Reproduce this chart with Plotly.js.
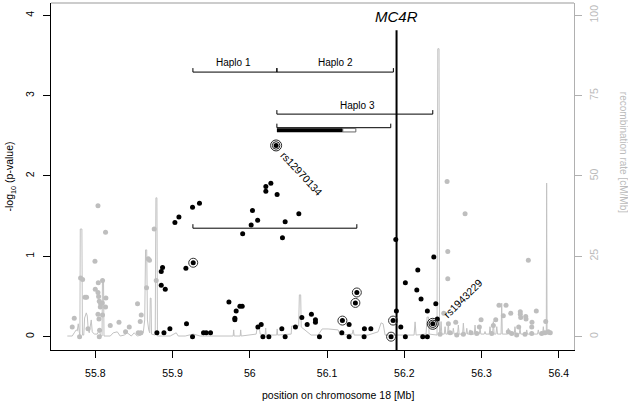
<!DOCTYPE html>
<html>
<head>
<meta charset="utf-8">
<script src="https://cdn.plot.ly/plotly-3.0.1.min.js"></script>
<style>html,body{margin:0;padding:0;background:#fff;}#chart{width:628px;height:405px;}</style>
</head>
<body>
<div id="chart"></div>
<script>
// ---- data (position in Mb on chr18) ----
var snpPos = [55.8798,55.8889,55.8966,55.8854,55.8871,55.8854,55.8906,55.9031,55.9083,55.9173,
  55.9181,55.9259,55.9349,55.9268,55.9259,55.9401,55.9436,55.9492,55.9730,55.9824,
  55.9872,55.9902,55.9807,55.9807,56.0035,56.0102,56.0018,55.9908,56.0208,56.0208,
  56.0273,56.0354,56.0458,56.0635,56.0423,56.0105,56.0148,56.0170,56.0247,56.0415,
  56.0458,56.0591,56.0674,56.0743,56.0798,56.0850,56.0850,56.0902,56.1199,56.1192,
  56.1286,56.1286,56.1386,56.1367,56.1484,56.1567,56.1480,56.1855,56.1829,56.1890,
  56.1898,56.1955,56.2014,56.2014,56.2175,56.2162,56.2217,56.2382,56.2408,56.2299,
  56.2239,56.2299,56.2369,56.2428,56.0341];
var snpLogP = [0.05,0.05,0.10,0.81,0.86,0.64,0.59,1.42,1.49,0.85,
  0.16,1.61,1.66,0.92,0.00,0.05,0.05,0.05,0.43,0.32,
  0.38,0.38,0.23,0.21,1.57,1.45,1.39,1.28,1.87,1.81,
  1.91,1.77,1.43,1.53,1.23,0.12,0.15,0.00,0.00,0.10,
  0.00,0.12,0.24,0.15,0.28,0.21,0.18,0.00,0.20,0.05,
  0.15,0.00,0.55,0.42,0.10,0.10,0.00,0.20,0.00,1.21,
  0.32,0.12,0.00,0.67,0.83,0.58,0.47,0.99,0.41,0.32,
  0.00,0.00,0.16,0.22,2.38];

var flankPos = [55.8035,55.8133,55.7996,55.7810,55.7836,55.7867,55.7887,55.7728,55.7702,55.7797,
  55.7906,55.8000,55.8035,55.8039,55.8094,55.8043,55.8052,55.8069,55.8091,55.8065,
  55.8133,55.8138,55.8048,55.8035,55.8094,55.8056,55.8052,55.8194,55.8307,55.8392,
  55.8440,55.8547,55.8595,55.8582,55.8556,55.8591,55.8763,55.8664,55.8686,55.8702,
  55.8789,
  56.2554,56.2787,56.2563,56.2563,56.3606,56.2511,56.2571,56.2666,56.3226,56.3317,
  56.3282,56.3378,56.3502,56.3502,56.3507,56.3572,56.3709,56.3653,56.2994,56.2972,
  56.3184,56.3481,56.3831,56.3890,56.3576,56.3650,56.3153,
  56.2463,56.2593,56.2679,56.2765,56.2864,56.2938,56.3132,56.3347,56.3391,56.3455,
  56.3563,56.3650,56.3779,56.3822,56.3864];
var flankLogP = [1.63,1.30,0.94,0.73,0.71,0.49,0.49,0.23,0.12,0.00,
  0.10,0.59,0.55,0.67,0.70,0.50,0.44,0.41,0.42,0.37,
  0.37,0.48,0.22,0.28,0.27,0.08,0.00,0.14,0.18,0.06,
  0.12,0.41,0.27,0.19,0.05,0.05,1.34,0.61,0.97,0.95,
  0.70,
  1.93,1.53,1.06,0.72,0.95,0.29,0.16,0.18,0.39,0.39,
  0.26,0.29,0.31,0.28,0.24,0.25,0.32,0.18,0.21,0.12,
  0.21,0.12,0.19,0.05,0.22,0.12,0.14,
  0.03,0.05,0.02,0.03,0.05,0.04,0.04,0.06,0.04,0.02,
  0.03,0.04,0.04,0.05,0.06];

var ringPos = [55.9268,56.1199,56.1386,56.1367,56.1855,56.1829];
var ringLogP = [0.92,0.20,0.55,0.42,0.20,0.00];
var leadNames = ["rs12970134","rs1943229"];
var leadPos = [56.0341,56.2369];
var leadLogP = [2.38,0.16];

var recombPos = [55.7638,55.7702,55.7728,55.7754,55.7767,55.7780,55.7793,55.7801,55.7806,55.7827,
  55.7834,55.7851,55.7862,55.7884,55.7897,55.7909,55.7922,55.7935,55.7948,55.7961,
  55.7987,55.8026,55.8052,55.8071,55.8088,55.8093,55.8107,55.8113,55.8194,55.8233,
  55.8285,55.8323,55.8375,55.8414,55.8466,55.8505,55.8543,55.8595,55.8621,55.8640,
  55.8651,55.8666,55.8675,55.8692,55.8705,55.8712,55.8722,55.8728,55.8776,55.8785,
  55.8798,55.8805,55.8970,55.9048,55.9074,55.9164,55.9268,55.9358,55.9514,55.9785,
  55.9792,55.9798,55.9876,55.9882,55.9889,56.0083,56.0096,56.0122,56.0135,56.0199,
  56.0206,56.0212,56.0348,56.0355,56.0361,56.0536,56.0542,56.0555,56.0633,56.0642,
  56.0659,56.0666,56.0794,56.0885,56.0937,56.1014,56.1144,56.1170,56.1325,56.1338,
  56.1351,56.1532,56.1661,56.1700,56.1726,56.1752,56.1894,56.2127,56.2140,56.2153,
  56.2282,56.2295,56.2314,56.2321,56.2424,56.2434,56.2450,56.2456,
  56.2466,56.2476,56.2486, 56.2518,56.2528,56.2538, 56.2560,56.2570,56.2580,
  56.2625,56.2635,56.2645, 56.2690,56.2700,56.2710, 56.2755,56.2765,56.2775,
  56.2799,56.2809,56.2819, 56.2841,56.2851,56.2861, 56.2906,56.2916,56.2926,
  56.2971,56.2981,56.2991, 56.3035,56.3045,56.3055, 56.3100,56.3110,56.3120,
  56.3143,56.3153,56.3163, 56.3187,56.3197,56.3207, 56.3253,56.3261,56.3269,
  56.3337,56.3347,56.3357, 56.3423,56.3433,56.3443, 56.3488,56.3498,56.3508,
  56.3575,56.3585,56.3595, 56.3639,56.3649,56.3659, 56.3725,56.3735,56.3745,
  56.3790,56.3800,56.3810, 56.3838,56.3843,56.3848, 56.3898,56.3908];
var recombRate = [0.2,0.2,1.2,2.1,1.8,4.0,1.5,0.2,33.5,33.5,
  0.5,0.5,5.8,7.4,6.4,2.1,1.2,3.6,5.2,1.5,
  0.8,0.8,2.1,0.2,0.2,17.3,17.3,0.2,0.2,1.2,
  1.5,0.2,0.5,1.2,0.2,1.2,0.2,0.5,1.2,5.2,
  27.0,27.0,5.2,2.1,1.2,12.0,12.0,0.8,0.5,43.2,
  43.2,0.2,0.2,1.2,0.2,0.2,0.8,0.2,0.2,0.2,
  2.1,0.2,0.2,2.1,0.2,0.8,3.0,3.0,0.8,0.5,
  2.7,0.5,0.5,2.4,0.5,0.8,3.3,3.3,3.3,13.0,
  13.0,3.0,0.5,0.5,2.4,2.4,2.1,0.5,0.8,2.1,
  0.5,0.5,1.5,4.3,4.0,0.5,0.5,0.5,4.6,0.5,
  0.8,6.1,6.1,0.8,0.5,89.6,89.6,0.8,
  0.8,4.7,0.8, 0.8,3.1,0.8, 0.8,4.3,0.8,
  0.8,2.6,0.8, 0.8,3.6,0.8, 0.8,4.2,0.8,
  0.8,2.6,0.8, 0.8,2.1,0.8, 0.8,3.6,0.8,
  0.8,2.6,0.8, 0.8,1.6,0.8, 0.8,3.1,0.8,
  0.8,4.7,0.8, 0.8,3.1,0.8, 0.8,10.4,0.8,
  0.8,2.6,0.8, 0.8,3.1,0.8, 0.8,2.6,0.8,
  0.8,2.1,0.8, 0.8,1.6,0.8, 0.8,2.1,0.8,
  0.8,3.1,0.8, 0.8,47.8,0.8, 0.8,1.6];

var geneName = "MC4R";
var genePos = 56.1900;
var haploNames = ["Haplo 1","Haplo 2","Haplo 3"];
var haploStart = [55.9264,56.0351,56.0351];
var haploEnd = [56.0351,56.1859,56.2369];
var haploLevel = [3.293,3.293,2.770];
var subStart = 56.0351, subEnd = 56.1825, subLevel = 2.601;
var blockStart = 56.0351, blockEnd = 56.1204, blockLevel = 2.568;
var boxStart = 56.1204, boxEnd = 56.1373;
var lowStart = 55.9264, lowEnd = 56.1386, lowLevel = 1.350;

var xTicks = [55.8,55.9,56,56.1,56.2,56.3,56.4];
var xTickText = ["55.8","55.9","56","56.1","56.2","56.3","56.4"];
var yTicks = [0,1,2,3,4];
var rateTicks = [0,25,50,75,100];

// ---- plot ----
var FONT = "Liberation Sans, Arial, Helvetica, sans-serif";
var GREY = "#c2c2c2";
var TH = 0.05; // bracket tick height
function bracket(a, b, lvl) {
  return {x:[a,a,b,b], y:[lvl+TH,lvl,lvl,lvl+TH], yaxis:'y2', mode:'lines',
    line:{color:'#000', width:1}, hoverinfo:'skip', showlegend:false};
}
var traces = [];
traces.push({x:recombPos, y:recombRate, yaxis:'y', mode:'lines',
  line:{color:GREY, width:1}, hoverinfo:'skip', showlegend:false});
traces.push({x:flankPos, y:flankLogP, yaxis:'y2', mode:'markers',
  marker:{color:'#bebebe', size:5}, hoverinfo:'skip', showlegend:false});
traces.push({x:[genePos,genePos], y:[-0.166,3.813], yaxis:'y2', mode:'lines',
  line:{color:'#000', width:2}, hoverinfo:'skip', showlegend:false});
traces.push({x:snpPos, y:snpLogP, yaxis:'y2', mode:'markers',
  marker:{color:'#000', size:5}, hoverinfo:'skip', showlegend:false});
traces.push({x:ringPos, y:ringLogP, yaxis:'y2', mode:'markers',
  marker:{symbol:'circle-open', color:'#333', size:9, line:{width:1, color:'#333'}}, hoverinfo:'skip', showlegend:false});
[7.5,11].forEach(function(s){
  traces.push({x:leadPos, y:leadLogP, yaxis:'y2', mode:'markers',
    marker:{symbol:'circle-open', color:'#222', size:s, line:{width:1, color:'#222'}}, hoverinfo:'skip', showlegend:false});
});
for (var i=0;i<haploNames.length;i++) traces.push(bracket(haploStart[i], haploEnd[i], haploLevel[i]));
traces.push(bracket(subStart, subEnd, subLevel));
traces.push(bracket(lowStart, lowEnd, lowLevel));
traces.push({x:[blockStart, blockEnd], y:[blockLevel, blockLevel], yaxis:'y2', mode:'lines',
  line:{color:'#000', width:4}, hoverinfo:'skip', showlegend:false});

var annotations = [];
annotations.push({x:genePos, y:3.981, xref:'x', yref:'y2', text:geneName, showarrow:false,
  font:{family:FONT, size:15, color:'#000', style:'italic'}, xanchor:'center', yanchor:'middle'});
var haploLabX = [55.9785, 56.1105, 56.1400];
var haploLabY = [3.408, 3.408, 2.880];
for (var j=0;j<haploNames.length;j++) {
  annotations.push({x:haploLabX[j], y:haploLabY[j], xref:'x', yref:'y2', text:haploNames[j], showarrow:false,
    font:{family:FONT, size:10, color:'#000'}, xanchor:'center', yanchor:'middle'});
}
annotations.push({x:56.0680, y:2.030, xref:'x', yref:'y2', text:leadNames[0], showarrow:false,
  textangle:47, font:{family:FONT, size:10.5, color:'#000'}});
annotations.push({x:56.2764, y:0.478, xref:'x', yref:'y2', text:leadNames[1], showarrow:false,
  textangle:-45, font:{family:FONT, size:10.5, color:'#000'}});
annotations.push({x:0.549, y:-0.13, xref:'paper', yref:'paper', text:'position on chromosome 18 [Mb]',
  showarrow:false, xanchor:'center', yanchor:'middle', font:{family:FONT, size:10.5, color:'#000'}});
annotations.push({x:-0.0784, y:0.50, xref:'paper', yref:'paper', text:'-log<sub>10</sub> (p-value)',
  showarrow:false, textangle:-90, xanchor:'center', yanchor:'middle', font:{family:FONT, size:10.5, color:'#000'}});
annotations.push({x:1.0937, y:0.571, xref:'paper', yref:'paper', text:'recombination rate [cM/Mb]',
  showarrow:false, textangle:90, xanchor:'center', yanchor:'middle', font:{family:FONT, size:10, color:'#bbbbbb'}});

var layout = {
  width:628, height:405,
  margin:{l:51, r:54, t:3, b:55, pad:0},
  paper_bgcolor:'#fff', plot_bgcolor:'#fff',
  showlegend:false,
  font:{family:FONT, size:10.5, color:'#000'},
  xaxis:{range:[55.7427,56.4197], tickvals:xTicks, ticktext:xTickText, ticks:'outside', ticklen:7,
    tickcolor:'#000', tickwidth:1, showline:true, linecolor:'#000', linewidth:1, showgrid:false,
    zeroline:false, ticklabelstandoff:6, tickfont:{family:FONT, size:10.5, color:'#000'}, fixedrange:true},
  yaxis:{range:[-4.15,103.83], side:'right', tickvals:rateTicks, ticks:'outside', ticklen:7,
    tickcolor:'#b0b0b0', showline:true, linecolor:'#b0b0b0', linewidth:1, showgrid:false, zeroline:false,
    tickangle:-90, ticklabelstandoff:3, tickfont:{family:FONT, size:10.5, color:'#bbbbbb'}, fixedrange:true},
  yaxis2:{range:[-0.166,4.153], overlaying:'y', side:'left', anchor:'x', tickvals:yTicks, ticks:'outside', ticklen:7,
    tickcolor:'#000', showline:true, linecolor:'#000', linewidth:1, showgrid:false, zeroline:false,
    tickangle:-90, ticklabelstandoff:5, tickfont:{family:FONT, size:10.5, color:'#000'}, fixedrange:true},
  shapes:[
    {type:'line', xref:'paper', yref:'paper', x0:0, x1:1, y0:1, y1:1, line:{color:'#999', width:1}},
    {type:'rect', xref:'x', yref:'y2', x0:boxStart, x1:boxEnd, y0:2.548, y1:2.593, line:{color:'#666', width:1}, fillcolor:'rgba(0,0,0,0)'}
  ],
  annotations:annotations
};
Plotly.newPlot('chart', traces, layout, {staticPlot:true, displayModeBar:false});
</script>
</body>
</html>
